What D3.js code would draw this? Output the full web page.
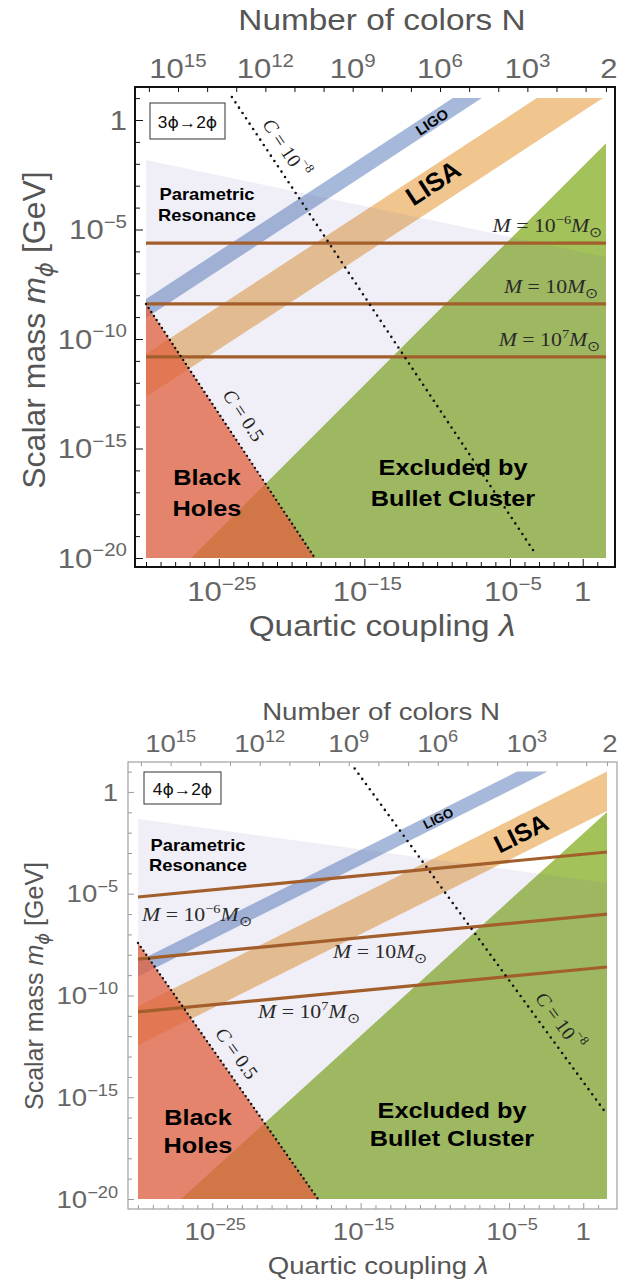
<!DOCTYPE html>
<html><head><meta charset="utf-8">
<script src="https://cdn.jsdelivr.net/npm/d3@7"></script>
<style>
body{margin:0;background:#fff;}
svg{display:block;}
</style></head><body>
<svg id="fig" width="631" height="1286"></svg>
<script>
// All coordinates below are [log10 λ, log10 (m_ϕ / GeV)].

// ---- axis ticks and labels ----
const lambdaTicks = d3.range(-30, 2);          // every decade of λ
const lambdaLabels = [-25, -15, -5, 0];
const massTicks = d3.range(-20, 2);            // every decade of m_ϕ
const massLabels = [0, -5, -10, -15, -20];
const colorTicks = d3.range(1, 17);            // N = 10^k
const colorLabels = [15, 12, 9, 6, 3];
const colorTwo = Math.log10(2);                // the N = 2 tick
const LOG_16PI2 = Math.log10(16 * Math.PI * Math.PI);   // λ = 16π²/N²

// ---- 3ϕ→2ϕ panel ----
const resonance3 = [[-30, -1.83], [1.6, -6.26], [1.6, -20], [-30, -20]];
const ligo3 = [[-8.92, 1], [-6.93, 1], [-30, -9.04], [-30, -8.17]];
const lisa3 = [[-3.15, 1], [1.39, 1], [-30, -12.65], [-30, -10.68]];
const bullet3 = [[-26.9, -20], [1.6, -1.06], [1.6, -20]];
const blackHoles3 = [[-30, -8.4], [-30, -20], [-18.4, -20]];
const massLines3 = [
  [[-30, -5.62], [1.6, -5.62]],
  [[-30, -8.40], [1.6, -8.40]],
  [[-30, -10.82], [1.6, -10.82]]
];
const cSmall3 = [[-24.1, 1.05], [-3.2, -19.85]];   // C = 10^-8
const cHalf3 = [[-30, -8.4], [-18.4, -20]];        // C = 0.5

// ---- 4ϕ→2ϕ panel ----
const resonance4 = [[-30, -1.33], [1.6, -4.47], [1.6, -20], [-30, -20]];
const ligo4 = [[-4.46, 1], [-2.4, 1], [-30, -9.07], [-30, -8.32]];
const lisa4 = [[1.6, 1], [1.6, -0.93], [-30, -12.46], [-30, -10.53]];
const bullet4 = [[-27.1, -20], [1.6, -0.98], [1.6, -20]];
const blackHoles4 = [[-30, -7.42], [-30, -20], [-17.87, -20]];
const massLines4 = [
  [[-30, -5.16], [1.6, -2.95]],
  [[-30, -8.21], [1.6, -6.00]],
  [[-30, -10.81], [1.6, -8.60]]
];
const cSmall4 = [[-15.4, 1.15], [1.6, -15.85]];
const cHalf4 = [[-30, -7.42], [-17.87, -20]];

// ---- mass line captions: M = 10^k M_sun ----
const massExponents = ["\u22126", "1", "7"];

const SANS = "'Liberation Sans', Arial, Helvetica, sans-serif";
const SERIF = "'Liberation Serif', 'Times New Roman', serif";
const SX = 1.15;   // horizontal stretch of the lettering
const MINUS = "\u2212";

const svg = d3.select("#fig");
svg.append("rect").attr("width", 631).attr("height", 1286).attr("fill", "#fff");

// text built from [string, flags] parts: "^" superscript, "_" subscript, "i" italic
function rich(text, parts, size) {
  let shift = 0;
  for (const [t, kind = ""] of parts) {
    let target = 0, fs = size;
    if (kind.includes("^")) { target = -0.42 * size; fs = size * 0.66; }
    if (kind.includes("_")) { target = 0.24 * size; fs = size * 0.72; }
    const ts = text.append("tspan").text(t).attr("font-size", fs);
    if (target - shift !== 0) ts.attr("dy", target - shift);
    if (kind.includes("i")) ts.attr("font-style", "italic");
    if (kind.includes("d")) ts.attr("font-family", "'DejaVu Sans', sans-serif");
    shift = target;
  }
}

function put(g, x, y, parts, o) {
  const tr = `translate(${x},${y})` +
    (o.rotate !== undefined ? ` rotate(${o.rotate})` : ` scale(${o.sx ?? SX},1)`);
  const t = g.append("text")
    .attr("transform", tr)
    .attr("text-anchor", o.anchor || "middle")
    .attr("font-family", o.family || SANS)
    .attr("font-size", o.size)
    .attr("font-weight", o.weight || "normal")
    .attr("fill", o.fill || "#000");
  if (o.baseline) t.attr("dominant-baseline", o.baseline);
  rich(t, parts, o.size);
  return t;
}

const powParts = e => e === 0 ? [["1"]] : [["10"], [(e < 0 ? MINUS : "") + Math.abs(e), "^"]];
const massCaption = k => k === "1"
  ? [["M", "i"], [" = 10"], ["M", "i"], ["\u2299", "_"]]
  : [["M", "i"], [" = 10"], [k, "^"], ["M", "i"], ["\u2299", "_"]];

function drawPanel(P) {
  const g = svg.append("g");
  const F = P.frame;
  const x = d3.scaleLinear().domain([-30, 1.6]).range(P.xRange);
  const y = d3.scaleLinear().domain([-20, 1]).range(P.yRange);
  // top axis: log10 N, with λ = 16π²/N²
  const xN = d3.scaleLinear()
    .domain([(LOG_16PI2 + 30) / 2, (LOG_16PI2 - 1.6) / 2]).range(P.xRange);
  const pt = d => [x(d[0]), y(d[1])];
  const area = (pts, fill, op) => g.append("path")
    .attr("d", d3.line()(pts.map(pt)) + "Z")
    .attr("fill", fill).attr("fill-opacity", op);

  // regions
  area(P.ligo, "#a6b9da", 1);
  area(P.lisa, "#f0c68e", 1);
  area(P.bullet, "#a4c25a", 1);
  area(P.resonance, "rgb(105,95,175)", 0.1);
  area(P.blackHoles, "rgb(226,96,63)", 0.75);

  // constant-mass contours
  P.massLines.forEach(l => g.append("path")
    .attr("d", d3.line()(l.map(pt)))
    .attr("stroke", "#a35f2b").attr("stroke-width", 3.2).attr("fill", "none"));

  // dotted C contours
  [[P.cSmall, 6.4, 2.6], [P.cHalf, 4.8, 2.4]].forEach(([l, gap, w]) => g.append("path")
    .attr("d", d3.line()(l.map(pt)))
    .attr("stroke", "#111").attr("stroke-width", w)
    .attr("stroke-linecap", "round").attr("stroke-dasharray", `0 ${gap}`)
    .attr("fill", "none"));

  // angles of the bands and contours on screen
  const ang = l => Math.atan2(y(l[1][1]) - y(l[0][1]), x(l[1][0]) - x(l[0][0])) * 180 / Math.PI;
  const bandAng = ang([P.ligo[3], P.ligo[0]]);
  const cAng = ang(P.cSmall);
  const cHalfAng = ang(P.cHalf);

  const L = P.labels;
  put(g, L.ligo[0], L.ligo[1], [["LIGO"]], { size: P.ligoSize, weight: "bold", rotate: bandAng, baseline: "central" });
  put(g, L.lisa[0], L.lisa[1], [["LISA"]], { size: P.lisaSize, weight: "bold", rotate: bandAng, baseline: "central" });
  put(g, L.cSmall[0], L.cSmall[1], [["C", "i"], [" = 10"], [MINUS + "8", "^"]],
    { size: P.serifSize, family: SERIF, rotate: cAng, baseline: "central", fill: "#222" });
  put(g, L.cHalf[0], L.cHalf[1], [["C", "i"], [" = 0.5"]],
    { size: P.serifSize, family: SERIF, rotate: cHalfAng, baseline: "central", fill: "#222" });
  P.massLabelPos.forEach((p, i) => put(g, p[0], p[1], massCaption(massExponents[i]),
    { size: P.serifSize, family: SERIF, anchor: p[2], sx: 1.12, fill: "#2a2a2a" }));

  const bold = (pos, lines, size) => lines.forEach((s, i) =>
    put(g, pos[i][0], pos[i][1], [[s]], { size, weight: "bold" }));
  bold(L.resonance, ["Parametric", "Resonance"], P.resSize);
  bold(L.holes, ["Black", "Holes"], P.bigSize);
  bold(L.bullet, ["Excluded by", "Bullet Cluster"], P.bigSize);

  // process box
  const B = P.box;
  g.append("rect").attr("x", B[0]).attr("y", B[1]).attr("width", B[2]).attr("height", B[3])
    .attr("fill", "#fff").attr("stroke", "#333").attr("stroke-width", 1);
  put(g, B[0] + B[2] / 2, B[1] + B[3] / 2 + 1, P.process,
    { size: P.boxSize, baseline: "central", sx: 1.05, fill: "#111" });

  // frame and ticks
  const tick = (gen, tx, ty) => g.append("g").attr("transform", `translate(${tx},${ty})`)
    .call(gen)
    .call(a => {
      a.select(".domain").remove();
      a.selectAll("line").attr("stroke", P.tickColor).attr("stroke-width", 1);
    });
  const inFrameX = v => x(v) > F[0] + 1 && x(v) < F[2] - 1;
  tick(d3.axisLeft(y).tickValues(massTicks.filter(v => !massLabels.includes(v)))
    .tickSize(-P.minor).tickFormat(""), F[0], 0);
  tick(d3.axisLeft(y).tickValues(massLabels).tickSize(-P.major).tickFormat(""), F[0], 0);
  tick(d3.axisBottom(x).tickValues(lambdaTicks.filter(v => inFrameX(v) && !lambdaLabels.includes(v)))
    .tickSize(-P.minor).tickFormat(""), 0, F[3]);
  tick(d3.axisBottom(x).tickValues(lambdaLabels).tickSize(-P.major).tickFormat(""), 0, F[3]);
  const nTicks = colorTicks.concat([colorTwo]).filter(n => xN(n) > F[0] + 1 && xN(n) < F[2] - 1);
  tick(d3.axisTop(xN).tickValues(nTicks).tickSize(-P.minor).tickFormat(""), 0, F[1]);

  g.append("rect").attr("x", F[0]).attr("y", F[1])
    .attr("width", F[2] - F[0]).attr("height", F[3] - F[1])
    .attr("fill", "none").attr("stroke", P.frameColor).attr("stroke-width", P.frameWidth);

  // tick labels
  const T = P.tickFont, tc = "#666";
  massLabels.forEach(v => put(g, P.leftLabelX, y(v) + 0.36 * T, powParts(v),
    { size: T, anchor: "end", fill: tc }));
  lambdaLabels.forEach(v => put(g, x(v) + (v === 0 ? 0 : 3), P.bottomLabelY, powParts(v),
    { size: T, fill: tc }));
  colorLabels.forEach(k => put(g, xN(k), P.topLabelY, [["10"], [String(k), "^"]],
    { size: T, fill: tc }));
  put(g, xN(colorTwo) + 3, P.topLabelY, [["2"]], { size: T, fill: tc });

  // axis titles
  const tt = "#555";
  put(g, P.topTitle[0], P.topTitle[1], [["Number of colors N"]], { size: P.titleSize, fill: tt });
  put(g, P.bottomTitle[0], P.bottomTitle[1], [["Quartic coupling "], ["\u03bb", "i"]],
    { size: P.titleSize, fill: tt });
  put(g, P.leftTitle[0], P.leftTitle[1],
    [["Scalar mass "], ["m", "i"], ["\u03d5", "_id"], [" [GeV]"]],
    { size: P.yTitleSize, fill: tt, rotate: -90 });
}

drawPanel({
  process: [["3"], ["\u03d5", "d"], ["\u21922"], ["\u03d5", "d"]],
  resonance: resonance3, ligo: ligo3, lisa: lisa3, bullet: bullet3,
  blackHoles: blackHoles3, massLines: massLines3, cSmall: cSmall3, cHalf: cHalf3,
  xRange: [146, 606], yRange: [558, 98.1],
  frame: [135, 87, 615, 567], frameColor: "#111", frameWidth: 2, tickColor: "#111",
  minor: 5, major: 8,
  tickFont: 27, titleSize: 29, yTitleSize: 32, serifSize: 19.5, ligoSize: 14.5, lisaSize: 26,
  resSize: 16, bigSize: 22, boxSize: 16.5,
  leftLabelX: 127, bottomLabelY: 601, topLabelY: 78,
  topTitle: [382, 30], bottomTitle: [382, 636], leftTitle: [45, 330],
  box: [150, 103, 75, 36],
  massLabelPos: [[603, 232, "end"], [599, 293, "end"], [601, 346, "end"]],
  labels: {
    ligo: [432, 122], lisa: [433, 183],
    cSmall: [286, 148], cHalf: [244, 415],
    resonance: [[207, 200], [207, 221]],
    holes: [[207, 485], [207, 516]],
    bullet: [[453, 475], [453, 506]]
  }
});

drawPanel({
  process: [["4"], ["\u03d5", "d"], ["\u21922"], ["\u03d5", "d"]],
  resonance: resonance4, ligo: ligo4, lisa: lisa4, bullet: bullet4,
  blackHoles: blackHoles4, massLines: massLines4, cSmall: cSmall4, cHalf: cHalf4,
  xRange: [138, 607], yRange: [1199, 771.6],
  frame: [128, 762, 617, 1209], frameColor: "#a0a0a0", frameWidth: 1.2, tickColor: "#999",
  minor: 4, major: 6,
  tickFont: 24, titleSize: 24, yTitleSize: 25, serifSize: 19.5, ligoSize: 13, lisaSize: 25,
  resSize: 16, bigSize: 22, boxSize: 16.5,
  leftLabelX: 118, bottomLabelY: 1240, topLabelY: 752,
  topTitle: [381, 720], bottomTitle: [378, 1274], leftTitle: [43, 986],
  box: [144, 772, 77, 32],
  massLabelPos: [[142, 921, "start"], [333, 958, "start"], [258, 1018, "start"]],
  labels: {
    ligo: [438, 818], lisa: [521, 833],
    cSmall: [560, 1021], cHalf: [237, 1053],
    resonance: [[198, 851], [198, 871]],
    holes: [[198, 1125], [198, 1153]],
    bullet: [[452, 1118], [452, 1146]]
  }
});
</script>
</body></html>
